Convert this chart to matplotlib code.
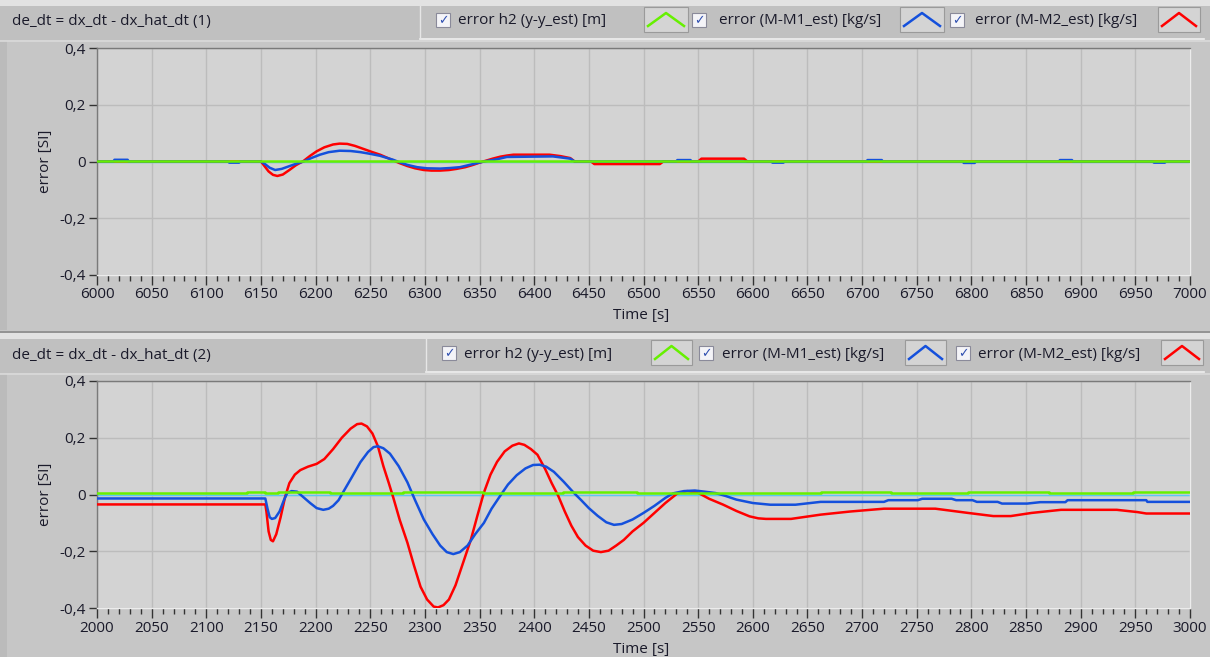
import numpy as np
import matplotlib.pyplot as plt
from matplotlib.patches import Rectangle
from matplotlib.lines import Line2D
from matplotlib.ticker import MultipleLocator, FuncFormatter

# ---------------- data ----------------
# Panel 1 (t = 6000..7000)
t1_red = [6000, 6150, 6153, 6157, 6161, 6165, 6170, 6176, 6182, 6189, 6195, 6201, 6208, 6216, 6222,
          6229, 6236, 6244, 6252, 6259, 6265, 6271, 6277, 6284, 6291, 6299, 6306, 6314, 6322, 6329,
          6337, 6344, 6350, 6356, 6362, 6369, 6375, 6381, 6414, 6424, 6433, 6437, 6452, 6455, 6515,
          6518, 6550, 6553, 6592, 6595, 7000]
v1_red = [0.0, 0.0, -0.015, -0.035, -0.047, -0.051, -0.046, -0.03, -0.013, 0.002, 0.02, 0.036, 0.05, 0.06, 0.063,
          0.062, 0.055, 0.044, 0.033, 0.024, 0.014, 0.004, -0.006, -0.016, -0.024, -0.03, -0.032, -0.032, -0.03, -0.026,
          -0.02, -0.012, -0.004, 0.003, 0.01, 0.017, 0.021, 0.024, 0.024, 0.019, 0.012, 0.0, 0.0, -0.009, -0.009,
          0.0, 0.0, 0.01, 0.01, 0.0, 0.0]
t1_blue = [6000, 6015, 6016, 6028, 6029, 6120, 6121, 6130, 6131, 6150, 6154, 6158, 6163, 6169, 6177,
           6183, 6189, 6196, 6204, 6212, 6222, 6232, 6241, 6250, 6259, 6265, 6271, 6277, 6284, 6293,
           6302, 6314, 6323, 6332, 6343, 6354, 6366, 6375, 6417, 6425, 6433, 6437,
           6530, 6531, 6543, 6544, 6617, 6618, 6628, 6629, 6704, 6705, 6718, 6719,
           6792, 6793, 6803, 6804, 6880, 6881, 6892, 6893, 6966, 6967, 6977, 6978, 7000]
v1_blue = [0.0, 0.0, 0.006, 0.006, 0.0, 0.0, -0.004, -0.004, 0.0, 0.0, -0.01, -0.022, -0.03, -0.026, -0.015,
           -0.007, 0.0, 0.012, 0.024, 0.033, 0.038, 0.037, 0.033, 0.027, 0.02, 0.013, 0.006, -0.003, -0.012, -0.02,
           -0.024, -0.025, -0.023, -0.02, -0.01, 0.0, 0.008, 0.016, 0.018, 0.014, 0.01, 0.0,
           0.0, 0.005, 0.005, 0.0, 0.0, -0.004, -0.004, 0.0, 0.0, 0.005, 0.005, 0.0,
           0.0, -0.005, -0.005, 0.0, 0.0, 0.005, 0.005, 0.0, 0.0, -0.004, -0.004, 0.0, 0.0]
t1_green = [6000, 7000]
v1_green = [0.002, 0.002]

# Panel 2 (t = 2000..3000)
t2_red = [2000, 2154, 2155, 2157, 2159, 2161, 2164, 2168, 2172, 2176, 2181, 2186, 2193, 2201, 2208,
          2216, 2224, 2232, 2238, 2242, 2247, 2252, 2257, 2262, 2267, 2271, 2277, 2284, 2290, 2296,
          2302, 2308, 2312, 2317, 2322, 2328, 2335, 2342, 2348, 2354, 2360, 2366, 2373, 2380, 2386,
          2391, 2397, 2403, 2410, 2416, 2422, 2428, 2434, 2440, 2447, 2454, 2461, 2468, 2475, 2482,
          2490, 2500, 2510, 2520, 2531, 2540, 2550, 2560, 2573, 2585, 2597, 2605, 2612, 2635, 2662,
          2689, 2720, 2767, 2797, 2820, 2836, 2855, 2882, 2933, 2952, 2960, 3000]
v2_red = [-0.035, -0.035, -0.06, -0.13, -0.16, -0.165, -0.14, -0.08, -0.01, 0.04, 0.07, 0.086, 0.098, 0.108, 0.125,
          0.16, 0.2, 0.232, 0.248, 0.25, 0.24, 0.215, 0.17, 0.1, 0.04, -0.01, -0.09, -0.17, -0.25, -0.325,
          -0.37, -0.395, -0.398, -0.39, -0.37, -0.32, -0.24, -0.16, -0.075, 0.007, 0.07, 0.115, 0.152, 0.172, 0.18,
          0.175, 0.16, 0.14, 0.09, 0.04, -0.005, -0.06, -0.11, -0.15, -0.18, -0.198, -0.203, -0.198, -0.18, -0.16,
          -0.13, -0.1, -0.065, -0.03, 0.004, 0.012, 0.006, -0.015, -0.036, -0.058, -0.077, -0.084, -0.086, -0.086, -0.071,
          -0.06, -0.05, -0.05, -0.065, -0.076, -0.076, -0.065, -0.054, -0.054, -0.062, -0.067, -0.067]
t2_blue = [2000, 2154, 2156, 2158, 2160, 2163, 2167, 2171, 2174, 2178, 2183, 2189, 2195, 2201, 2207,
           2212, 2216, 2221, 2225, 2233, 2241, 2248, 2253, 2257, 2262, 2268, 2276, 2284, 2291, 2299,
           2307, 2314, 2320, 2326, 2332, 2339, 2346, 2354, 2361, 2369, 2376, 2384, 2392, 2399, 2405,
           2411, 2418, 2427, 2436, 2443, 2450, 2458, 2466, 2473, 2480, 2490, 2500, 2510, 2520, 2527,
           2537, 2547, 2556, 2566, 2575, 2585, 2600, 2616, 2639, 2662, 2720, 2724, 2751, 2755, 2782,
           2786, 2801, 2805, 2824, 2828, 2851, 2863, 2886, 2888, 2960, 2961, 3000]
v2_blue = [-0.014, -0.014, -0.05, -0.08, -0.086, -0.083, -0.06, -0.02, 0.005, 0.012, 0.01, -0.01, -0.03, -0.048, -0.054,
           -0.05, -0.04, -0.02, 0.007, 0.06, 0.114, 0.15, 0.167, 0.17, 0.163, 0.144, 0.1, 0.043, -0.02, -0.088,
           -0.14, -0.18, -0.203, -0.21, -0.203, -0.18, -0.14, -0.1, -0.05, -0.004, 0.035, 0.068, 0.092, 0.104, 0.105,
           0.098, 0.08, 0.045, 0.007, -0.02, -0.048, -0.075, -0.098, -0.107, -0.104, -0.088, -0.065, -0.04, -0.012, 0.004,
           0.012, 0.014, 0.01, 0.005, -0.005, -0.018, -0.03, -0.036, -0.036, -0.026, -0.026, -0.02, -0.02, -0.015, -0.015,
           -0.02, -0.02, -0.026, -0.026, -0.032, -0.032, -0.027, -0.027, -0.02, -0.02, -0.026, -0.026]
t2_green = [2000, 2137, 2137, 2154, 2154, 2166, 2166, 2213, 2213, 2280, 2280, 2353, 2353, 2426, 2426,
            2494, 2494, 2630, 2630, 2662, 2662, 2726, 2726, 2797, 2797, 2871, 2871, 2948, 2948, 3000]
v2_green = [0.004, 0.004, 0.008, 0.008, 0.004, 0.004, 0.008, 0.008, 0.004, 0.004, 0.008, 0.008, 0.004, 0.004, 0.008,
            0.008, 0.004, 0.004, 0.006, 0.006, 0.008, 0.008, 0.004, 0.004, 0.008, 0.008, 0.004, 0.004, 0.008, 0.008]

titles = ["de_dt = dx_dt - dx_hat_dt (1)", "de_dt = dx_dt - dx_hat_dt (2)"]
legend_labels = ["error h2 (y-y_est) [m]", "error (M-M1_est) [kg/s]", "error (M-M2_est) [kg/s]"]
y_ticks = [-0.4, -0.2, 0.0, 0.2, 0.4]
x_ranges = [(6000, 7000), (2000, 3000)]

# ---------------- style ----------------
W, H = 1210, 657
RED, BLUE, GREEN, CYAN = "#ff0000", "#1450dc", "#66f000", "#5cc8f0"
FONT = ["Open Sans", "DejaVu Sans"]
plt.rcParams['font.family'] = FONT
TXT = "#1a1a2a"
FS = 11

fig = plt.figure(figsize=(W / 100, H / 100), dpi=100)
fig.patch.set_facecolor("#c6c6c6")


def fx(x):
    return x / W


def fy(y):
    return 1 - y / H


def rect(x0, y0, x1, y1, fc, ec="none", lw=0, z=0):
    fig.patches.append(Rectangle((fx(x0), fy(y1)), fx(x1) - fx(x0), fy(y0) - fy(y1),
                                 transform=fig.transFigure, facecolor=fc, edgecolor=ec,
                                 linewidth=lw, zorder=z))


def hline(x0, x1, y, c, lw=1, z=1):
    fig.add_artist(Line2D([fx(x0), fx(x1)], [fy(y), fy(y)], transform=fig.transFigure,
                          color=c, lw=lw, zorder=z))


def vline(x, y0, y1, c, lw=1, z=1):
    fig.add_artist(Line2D([fx(x), fx(x)], [fy(y0), fy(y1)], transform=fig.transFigure,
                          color=c, lw=lw, zorder=z))


def comma(v, pos):
    if abs(v) < 1e-9:
        return "0"
    return ("%.1f" % v).replace(".", ",")


def panel(off, title, xr, series, cb_x, tx_x, ic_x):
    # header band
    rect(0, off + 0, W, off + 6, "#e2e2e2")
    rect(0, off + 6, W, off + 40, "#c0c0c0")
    hline(0, W, off + 40.5, "#dadada", lw=1.2)
    # left darker strip of graph panel
    rect(0, off + 41, 7, off + 330, "#bbbbbb")
    fig.text(fx(12), fy(off + 22), title, fontsize=FS, color=TXT, va="center", ha="left")
    # legend box
    lx0 = cb_x[0] - 16
    hline(lx0, 1204, off + 38.5, "#f0f0f0", lw=1.2)
    vline(lx0, off + 6, off + 38, "#e6e6e6", lw=1.0)
    cols = [GREEN, BLUE, RED]
    for i in range(3):
        cx = cb_x[i]
        rect(cx, off + 13, cx + 14, off + 27, "#f4f4f8", ec="#8a8a9a", lw=0.8, z=2)
        fig.text(fx(cx + 7.5), fy(off + 20.5), "\u2713", fontsize=9, color="#3050b0",
                 ha="center", va="center", family="DejaVu Sans", zorder=3)
        fig.text(fx(tx_x[i]), fy(off + 21), legend_labels[i], fontsize=FS,
                 color=TXT, ha="left", va="center")
        a, b = ic_x[i]
        rect(a, off + 7, b, off + 32, "#d4d4d4", ec="#9a9a9a", lw=0.8, z=2)
        mid = (a + b) / 2
        fig.add_artist(Line2D([fx(a + 4), fx(mid), fx(b - 4)],
                              [fy(off + 26), fy(off + 13), fy(off + 26)],
                              transform=fig.transFigure, color=cols[i], lw=1.8, zorder=3))
    # plot area
    ax = fig.add_axes([fx(97), fy(off + 275), fx(1190) - fx(97), fy(off + 48) - fy(off + 275)])
    ax.set_facecolor("#d3d3d3")
    tg, vg, tb, vb, tr, vr = series
    ax.plot([xr[0], xr[1]], [0, 0], color=CYAN, lw=1.0, zorder=2)
    ax.plot(tr, vr, color=RED, lw=1.8, zorder=3)
    ax.plot(tb, vb, color=BLUE, lw=1.8, zorder=4)
    ax.plot(tg, vg, color=GREEN, lw=1.8, zorder=5)
    ax.set_xlim(*xr)
    ax.set_ylim(-0.4, 0.4)
    ax.xaxis.set_major_locator(MultipleLocator(50))
    ax.xaxis.set_minor_locator(MultipleLocator(10))
    ax.set_yticks(y_ticks)
    ax.yaxis.set_major_formatter(FuncFormatter(comma))
    ax.grid(True, which="major", color="#bcbcbc", lw=1.0)
    ax.set_axisbelow(True)
    ax.tick_params(axis="x", which="major", direction="out", length=7, width=1, color="#333333",
                   labelsize=FS, labelcolor=TXT, pad=2)
    ax.tick_params(axis="x", which="minor", direction="out", length=4, width=1, color="#333333")
    ax.tick_params(axis="y", direction="out", length=6, width=1, color="#333333",
                   labelsize=FS, labelcolor=TXT, pad=2)
    for s in ["left", "top"]:
        ax.spines[s].set_color("#7a7a7a")
        ax.spines[s].set_linewidth(1.0)
    for s in ["right", "bottom"]:
        ax.spines[s].set_color("#ececec")
        ax.spines[s].set_linewidth(1.0)
    fig.text(fx(641), fy(off + 316), "Time [s]", fontsize=FS, color=TXT, ha="center", va="center")
    fig.text(fx(45), fy(off + 161), "error [SI]", fontsize=FS, color=TXT, ha="center",
             va="center", rotation=90)
    return ax


panel(0, titles[0], x_ranges[0], (t1_green, v1_green, t1_blue, v1_blue, t1_red, v1_red),
      [436, 692, 950], [458, 719, 975], [(644, 688), (900, 944), (1158, 1200)])
# separator between panels
hline(0, W, 331.5, "#8a8a8a", lw=1.2)
panel(333, titles[1], x_ranges[1], (t2_green, v2_green, t2_blue, v2_blue, t2_red, v2_red),
      [442, 699, 956], [464, 722, 978], [(651, 692), (905, 946), (1161, 1203)])

fig.savefig("out.png", dpi=100, facecolor=fig.get_facecolor())
